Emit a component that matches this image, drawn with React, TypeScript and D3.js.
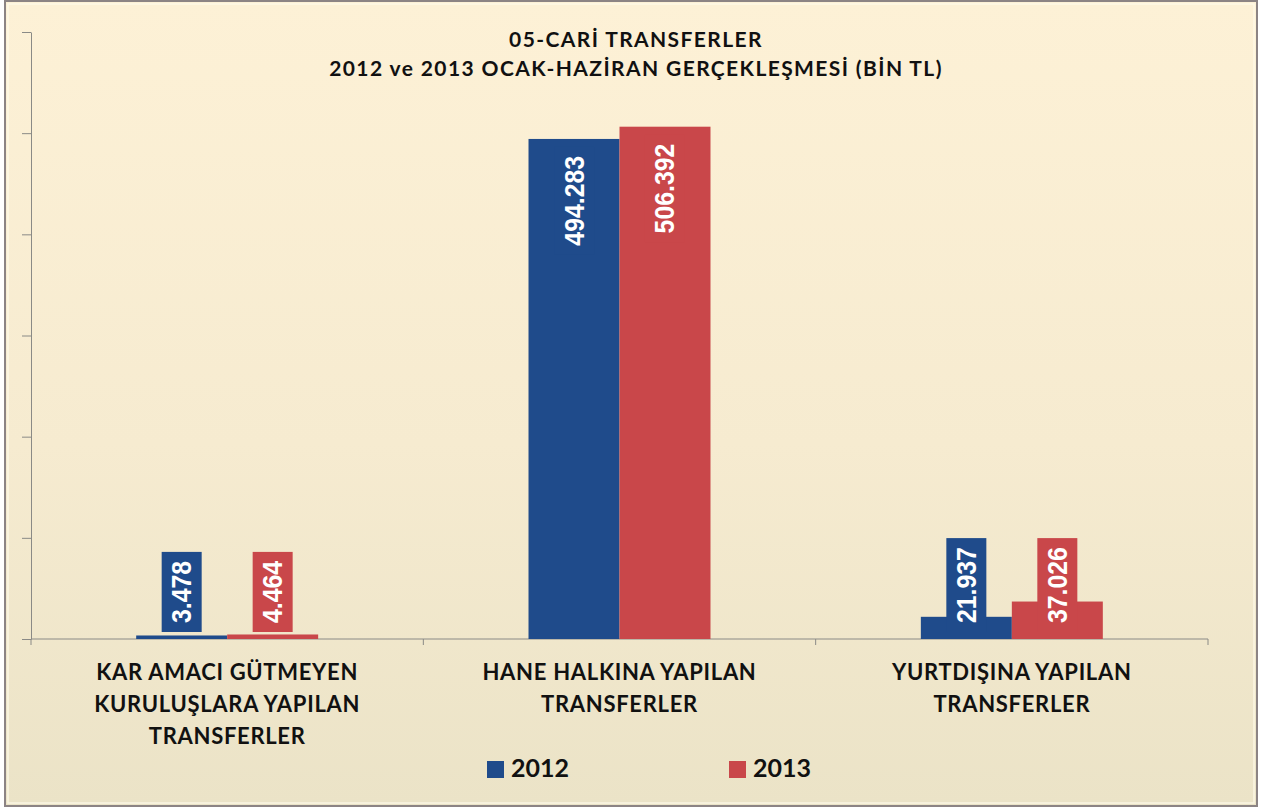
import * as React from "react"
import * as d3 from "d3"

const categories = ["KAR", "HANE", "YURT"]
const categoryLines = [
  ["KAR AMACI GÜTMEYEN", "KURULUŞLARA YAPILAN", "TRANSFERLER"],
  ["HANE HALKINA YAPILAN", "TRANSFERLER"],
  ["YURTDIŞINA YAPILAN", "TRANSFERLER"],
]
const years = ["2012", "2013"]
const values2012 = [3478, 494283, 21937]
const values2013 = [4464, 506392, 37026]
const yTicks = [0, 100000, 200000, 300000, 400000, 500000, 600000]
const titleLines = [
  "05-CARİ TRANSFERLER",
  "2012 ve 2013 OCAK-HAZİRAN GERÇEKLEŞMESİ (BİN TL)",
]

const W = 1267
const H = 809
const colors: Record<string, string> = { "2012": "#1f4b8b", "2013": "#c9474a" }
const axisColor = "#8a8a86"
const font = "Lato, 'Open Sans', sans-serif"

const trLocale = d3.formatLocale({
  decimal: ",",
  thousands: ".",
  grouping: [3],
  currency: ["", ""],
})
const fmt = trLocale.format(",d")

// rough glyph widths of the condensed label font
const labelLen = (s: string) =>
  s.split("").reduce((acc, c) => acc + (c === "." ? 6.9 : 13.8), 0)

export default function App(): React.JSX.Element {
  const margin = { left: 31, right: 59, top: 32, bottom: 170 }
  const plotBottom = H - margin.bottom
  const axisRef = React.useRef<SVGGElement>(null)

  const x = d3
    .scaleBand<string>()
    .domain(categories)
    .range([margin.left, W - margin.right])
    .paddingInner(0)
  const xSub = d3
    .scaleBand<string>()
    .domain(years)
    .range([0, x.bandwidth()])
    .paddingInner(0)
    .paddingOuter(1.156)
  const y = d3.scaleLinear().domain([0, 600000]).range([plotBottom, margin.top])

  const series = [
    { year: "2012", values: values2012 },
    { year: "2013", values: values2013 },
  ]

  React.useEffect(() => {
    const g = d3.select(axisRef.current)
    g.selectAll("*").remove()
    const yAxis = g
      .append("g")
      .attr("transform", `translate(${margin.left},0)`)
      .call(
        d3
          .axisLeft(y)
          .tickValues(yTicks)
          .tickSize(9)
          .tickSizeOuter(0)
          .tickFormat(() => "")
      )
    yAxis.selectAll("line").attr("stroke", axisColor)
    yAxis.select(".domain").attr("stroke", axisColor)
    yAxis
      .append("line")
      .attr("x1", 0)
      .attr("x2", 0)
      .attr("y1", plotBottom)
      .attr("y2", plotBottom + 6)
      .attr("stroke", axisColor)

    const xAxis = g.append("g").attr("transform", `translate(0,${plotBottom})`)
    xAxis
      .append("line")
      .attr("x1", margin.left)
      .attr("x2", W - margin.right)
      .attr("stroke", axisColor)
    const bounds = categories.map((c) => (x(c) as number) + x.bandwidth())
    xAxis
      .selectAll(".tk")
      .data(bounds)
      .join("line")
      .attr("class", "tk")
      .attr("x1", (d) => d)
      .attr("x2", (d) => d)
      .attr("y1", 0)
      .attr("y2", 6)
      .attr("stroke", axisColor)
  }, [])

  return (
    <div style={{ position: "absolute", left: 0, top: 0 }}>
      <svg width={W} height={H}>
        <defs>
          <linearGradient id="bg" x1="0" x2="0" y1="0" y2="1">
            <stop offset="0%" stopColor="#fdf1d6" />
            <stop offset="55%" stopColor="#f6ebd0" />
            <stop offset="100%" stopColor="#ebe3c7" />
          </linearGradient>
        </defs>
        <rect x={0} y={0} width={W} height={H} fill="#ffffff" />
        <rect
          x={5}
          y={1}
          width={1252}
          height={805}
          fill="url(#bg)"
          stroke="#8c8484"
          strokeWidth={2}
        />
        <rect
          x={8}
          y={4}
          width={1246}
          height={799}
          fill="none"
          stroke="#fffbea"
          strokeWidth={1.5}
          opacity={0.8}
        />

        {titleLines.map((t, i) => (
          <text
            key={t}
            x={636}
            y={47 + i * 29}
            textAnchor="middle"
            fontFamily={font}
            fontWeight="bold"
            fontSize={21}
            letterSpacing={1.4}
            fill="#111"
          >
            {t}
          </text>
        ))}

        <g ref={axisRef} />

        {series.map((s) =>
          s.values.map((v, i) => {
            const cat = categories[i]
            const bx = (x(cat) as number) + (xSub(s.year) as number)
            const bw = xSub.bandwidth()
            const top = y(v)
            return (
              <rect
                key={s.year + cat}
                x={bx}
                y={top}
                width={bw}
                height={plotBottom - top}
                fill={colors[s.year]}
              />
            )
          })
        )}

        {series.map((s) =>
          s.values.map((v, i) => {
            const cat = categories[i]
            const cx = (x(cat) as number) + (xSub(s.year) as number) + xSub.bandwidth() / 2
            const top = y(v)
            const label = fmt(v)
            const len = labelLen(label)
            const boxH = len + 18
            const boxW = 40
            const barH = plotBottom - top
            const inside = barH >= boxH + 16
            const boxTop = inside ? top + 8 : plotBottom - 7 - boxH
            const cy = boxTop + boxH / 2
            return (
              <g key={"l" + s.year + cat}>
                <rect
                  x={cx - boxW / 2}
                  y={boxTop}
                  width={boxW}
                  height={boxH}
                  fill={colors[s.year]}
                />
                <text
                  transform={`translate(${cx},${cy}) rotate(-90)`}
                  textAnchor="middle"
                  dominantBaseline="central"
                  fontFamily="'Liberation Sans', Arial, sans-serif"
                  fontWeight="bold"
                  fontSize={28}
                  textLength={len}
                  lengthAdjust="spacingAndGlyphs"
                  fill="#ffffff"
                >
                  {label}
                </text>
              </g>
            )
          })
        )}

        {categories.map((c, i) => (
          <text
            key={"c" + c}
            x={(x(c) as number) + x.bandwidth() / 2}
            textAnchor="middle"
            fontFamily={font}
            fontWeight="bold"
            fontSize={22}
            letterSpacing={0.7}
            fill="#111"
          >
            {categoryLines[i].map((ln, j) => (
              <tspan key={ln + j} x={(x(c) as number) + x.bandwidth() / 2} y={680 + j * 32}>
                {ln}
              </tspan>
            ))}
          </text>
        ))}

        {years.map((yr, i) => (
          <g key={"lg" + yr} transform={`translate(${487 + i * 242},0)`}>
            <rect x={0} y={761} width={17} height={17} fill={colors[yr]} />
            <text
              x={24}
              y={777}
              fontFamily={font}
              fontWeight="bold"
              fontSize={25}
              fill="#111"
            >
              {yr}
            </text>
          </g>
        ))}
      </svg>
    </div>
  )
}
